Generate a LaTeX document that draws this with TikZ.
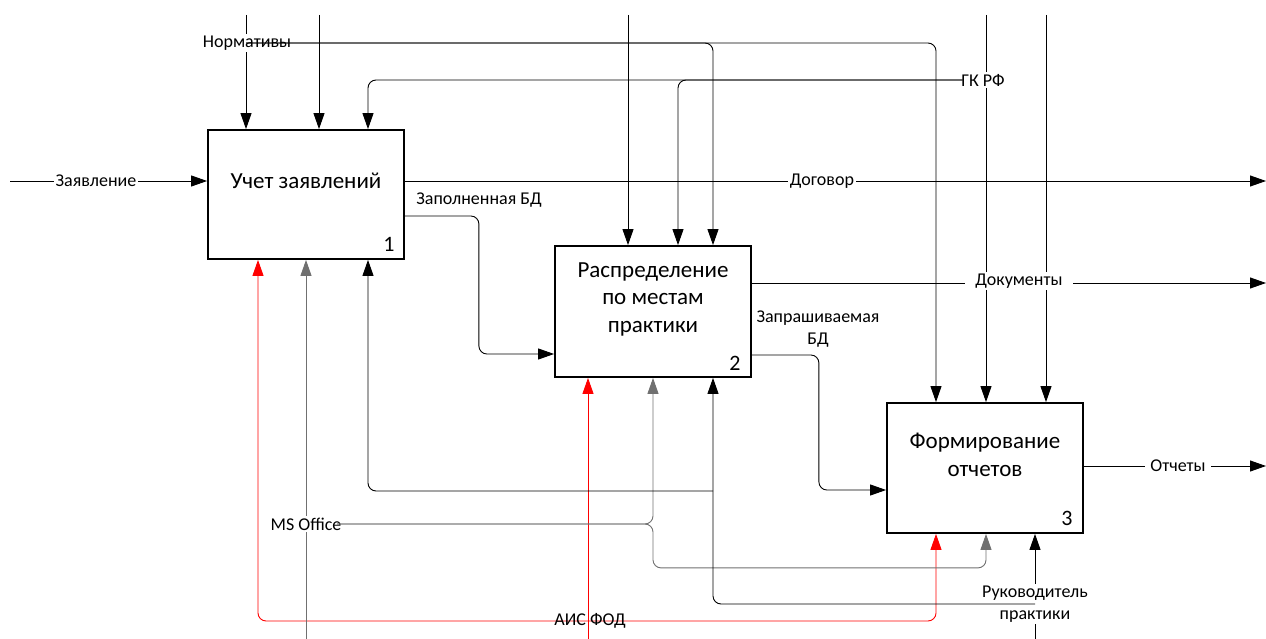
\documentclass[tikz,border=0pt]{standalone}
\usepackage{fontspec}
\setmainfont{Carlito}
\usetikzlibrary{arrows.meta}
\definecolor{mech}{RGB}{112,112,112}
\definecolor{aisred}{RGB}{255,0,0}
\begin{document}
\begin{tikzpicture}[x=1pt,y=-1pt,
  box/.style={draw, line width=1.8pt, minimum width=196pt, minimum height=129pt, inner sep=0pt},
  boxtxt/.style={font=\fontsize{23}{27.5}\selectfont, align=center, inner sep=0pt},
  numtxt/.style={font=\fontsize{22}{24}\selectfont, inner sep=0pt},
  lbl/.style={font=\fontsize{18}{22}\selectfont, align=center, inner sep=1.5pt},
  lblw/.style={lbl, fill=white},
  flow/.style={line width=0.9pt, rounded corners=8pt, -{Triangle[length=16pt,width=11pt]}},
]
\useasboundingbox (0,0) rectangle (1266,639);

% activity boxes
\node[box] (b1) at (306,194.5) {};
\node[box, minimum height=131pt] (b2) at (653,311.5) {};
\node[box, minimum height=130pt] (b3) at (985,468) {};

\node[boxtxt] (t1) at (306,181) {Учет заявлений};
\node[boxtxt] (t2) at (653,299) {Распределение\\по местам\\практики};
\node[boxtxt] (t3) at (985,455) {Формирование\\отчетов};
\node[numtxt] (n1) at (389,244) {1};
\node[numtxt] (n2) at (735,363) {2};
\node[numtxt] (n3) at (1067,518) {3};

% free ends
\coordinate (nTop) at (246,15);
\coordinate (cTop) at (319,15);
\coordinate (dTop) at (628,15);
\coordinate (gTop) at (986,15);
\coordinate (eTop) at (1046,15);
\coordinate (zIn) at (10,181);
\coordinate (dogEnd) at (1266,181);
\coordinate (docEnd) at (1266,283);
\coordinate (otcEnd) at (1266,466);
\coordinate (aisBot) at (588,639);
\coordinate (aisJ) at (588,621);
\coordinate (msBot) at (306,639);
\coordinate (rukBot) at (1035,639);
\coordinate (rJ) at (1035,604);
\coordinate (rJ2) at (713,491);

% controls from above
\draw[flow] (nTop) -- ([xshift=-60pt]b1.north);
\draw[flow] (cTop) -- ([xshift=13pt]b1.north);
\draw[flow] (dTop) -- ([xshift=-25pt]b2.north);
\draw[flow] (gTop) -- ([xshift=1pt]b3.north);
\draw[flow] (eTop) -- ([xshift=61pt]b3.north);

\node[lblw] (lNorm) at (247,43) {Нормативы};
\draw[flow] (nTop |- lNorm.center) -| ([xshift=-49pt]b3.north);
\draw[flow] (nTop |- lNorm.center) -| ([xshift=60pt]b2.north);

\node[lblw] (lGK) at (983,80) {ГК РФ};
\draw[flow] ([xshift=3pt]lGK.west) -| ([xshift=62pt]b1.north);
\draw[flow] ([xshift=3pt]lGK.west) -| ([xshift=25pt]b2.north);

% inputs and outputs
\draw[flow] (zIn) -- ([yshift=13.5pt]b1.west);
\node[lblw] (lZ) at (96,181) {Заявление};
\draw[flow] ([yshift=13.5pt]b1.east) -- (dogEnd);
\node[lblw] (lDog) at (822,181) {Договор};

\draw[flow] ([yshift=-21.5pt]b1.east) -- ++(74,0) |- ([yshift=-42.5pt]b2.west);
\node[lbl] (lZBD) at (479,200) {Заполненная БД};

\draw[flow] ([yshift=28.5pt]b2.east) -- (docEnd);
\node[lblw, inner xsep=10pt] (lDoc) at (1019,281) {Документы};

\draw[flow] ([yshift=-43.5pt]b2.east) -- ++(67,0) |- ([yshift=-22pt]b3.west);
\node[lbl] (lQBD) at (818,329) {Запрашиваемая\\БД};

\draw[flow] ([yshift=2pt]b3.east) -- (otcEnd);
\node[lblw, inner xsep=5pt] (lOtc) at (1178,466) {Отчеты};

% mechanisms: АИС ФОД
\draw[flow, aisred] (aisBot) -- ([xshift=-65pt]b2.south);
\draw[flow, aisred] (aisJ) -| ([xshift=-48pt]b1.south);
\draw[flow, aisred] (aisJ) -| ([xshift=-49pt]b3.south);
\node[lbl, inner sep=0pt] (lAis) at (590,621) {АИС ФОД};

% mechanisms: MS Office
\draw[flow, mech] (msBot) -- (b1.south);
\node[lblw] (lMS) at (306,524) {MS Office};
\draw[flow, mech] ([xshift=-6pt]lMS.east) -| (b2.south);
\draw[flow, mech] ([xshift=-6pt]lMS.east) -| ([yshift=-190pt]b2.south) -| ([xshift=1pt]b3.south);

% mechanisms: Руководитель практики
\draw[flow] (rukBot) -- ([xshift=50pt]b3.south);
\node[lblw] (lRuk) at (1035,604) {Руководитель\\практики};
\draw[flow] (rJ) -| ([xshift=60pt]b2.south);
\draw[flow] (rJ2) -| ([xshift=62pt]b1.south);
\end{tikzpicture}
\end{document}
